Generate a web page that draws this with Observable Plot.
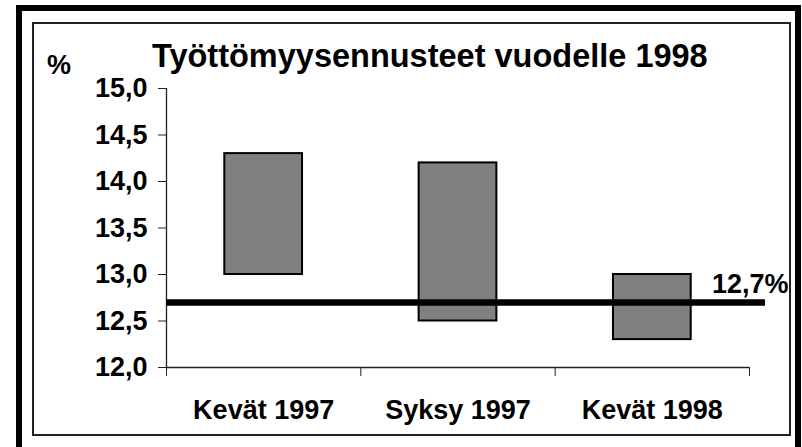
<!DOCTYPE html>
<html>
<head>
<meta charset="utf-8">
<script src="https://cdn.jsdelivr.net/npm/d3@7"></script>
<script src="https://cdn.jsdelivr.net/npm/@observablehq/plot@0.6"></script>
<style>
  html, body { margin: 0; padding: 0; background: #fff; }
  #wrap { position: relative; width: 802px; height: 447px; overflow: hidden; background: #fff; }
  #wrap svg { position: absolute; left: 0; top: 0; }
  .outer { position: absolute; left: 16px; top: 5px; width: 785px; height: 448px; box-sizing: border-box; border: 6px solid #000; pointer-events: none; }
  .inner { position: absolute; left: 32px; top: 22px; width: 759px; height: 414px; box-sizing: border-box; border: 2px solid #222; pointer-events: none; }
  .txt { position: absolute; font-family: "Liberation Sans", Arial, sans-serif; font-weight: 700; line-height: 1; white-space: nowrap; color: #000; }
</style>
</head>
<body>
<div id="wrap"></div>
<script>
const title = "Työttömyysennusteet vuodelle 1998";
const unitLabel = "%";
const categories = ["Kevät 1997", "Syksy 1997", "Kevät 1998"];
const lowValues = [13.0, 12.5, 12.3];
const highValues = [14.3, 14.2, 13.0];
const actualValue = 12.7;
const actualLabel = "12,7%";
const yTicks = [12.0, 12.5, 13.0, 13.5, 14.0, 14.5, 15.0];
const yTickLabels = ["12,0", "12,5", "13,0", "13,5", "14,0", "14,5", "15,0"];

const rows = categories.map((c, i) => ({cat: c, idx: i, low: lowValues[i], high: highValues[i]}));
const bounds = d3.range(categories.length + 1);

const chart = Plot.plot({
  width: 802,
  height: 447,
  marginLeft: 166,
  marginRight: 37,
  marginTop: 88,
  marginBottom: 80,
  style: {fontFamily: "'Liberation Sans', Arial, sans-serif", fontSize: "27px", fontWeight: "700", background: "transparent", color: "#000"},
  x: {type: "linear", domain: [0, categories.length], range: [166, 749], axis: null},
  y: {domain: [yTicks[0], yTicks[yTicks.length - 1]], axis: null},
  marks: [
    Plot.rectY(rows, {x1: d => d.idx + 0.3, x2: d => d.idx + 0.7, y1: "low", y2: "high", fill: "#808080", stroke: "#000", strokeWidth: 2}),
    Plot.ruleX([bounds[0]], {y1: yTicks[0], y2: yTicks[yTicks.length - 1], stroke: "#222", strokeWidth: 1.3}),
    Plot.ruleY([yTicks[0]], {x1: bounds[0], x2: bounds[bounds.length - 1], stroke: "#222", strokeWidth: 1.3}),
    Plot.axisY({ticks: yTicks, tickFormat: (d) => yTickLabels[yTicks.indexOf(d)], tickSize: 8, tickPadding: 11, stroke: "#222", fontSize: 27, label: null}),
    Plot.axisX({ticks: bounds, tickFormat: () => "", tickSize: 9, tickPadding: 0, stroke: "#222", label: null}),
    Plot.text(rows, {x: d => d.idx + 0.5, text: "cat", frameAnchor: "bottom", dy: 43, lineAnchor: "middle", fontSize: 27, fill: "#000"}),
    Plot.ruleY([actualValue], {stroke: "#000", strokeWidth: 6.5}),
    Plot.text([actualLabel], {x: () => bounds[bounds.length - 1], y: () => actualValue, text: d => d, dx: 39, dy: -18.5, textAnchor: "end", lineAnchor: "middle", fontSize: 27, fill: "#000"})
  ]
});

d3.select(chart).selectAll("text")
  .style("font-weight", "700")
  .style("font-family", "'Liberation Sans', Arial, sans-serif");

const wrap = document.getElementById("wrap");
wrap.appendChild(chart);

const inner = document.createElement("div");
inner.className = "inner";
wrap.appendChild(inner);
const outer = document.createElement("div");
outer.className = "outer";
wrap.appendChild(outer);

const t = document.createElement("div");
t.className = "txt";
t.textContent = title;
t.style.left = "152px";
t.style.top = "40px";
t.style.fontSize = "32.5px";
wrap.appendChild(t);

const u = document.createElement("div");
u.className = "txt";
u.textContent = unitLabel;
u.style.left = "47px";
u.style.top = "52px";
u.style.fontSize = "27px";
wrap.appendChild(u);
</script>
</body>
</html>
